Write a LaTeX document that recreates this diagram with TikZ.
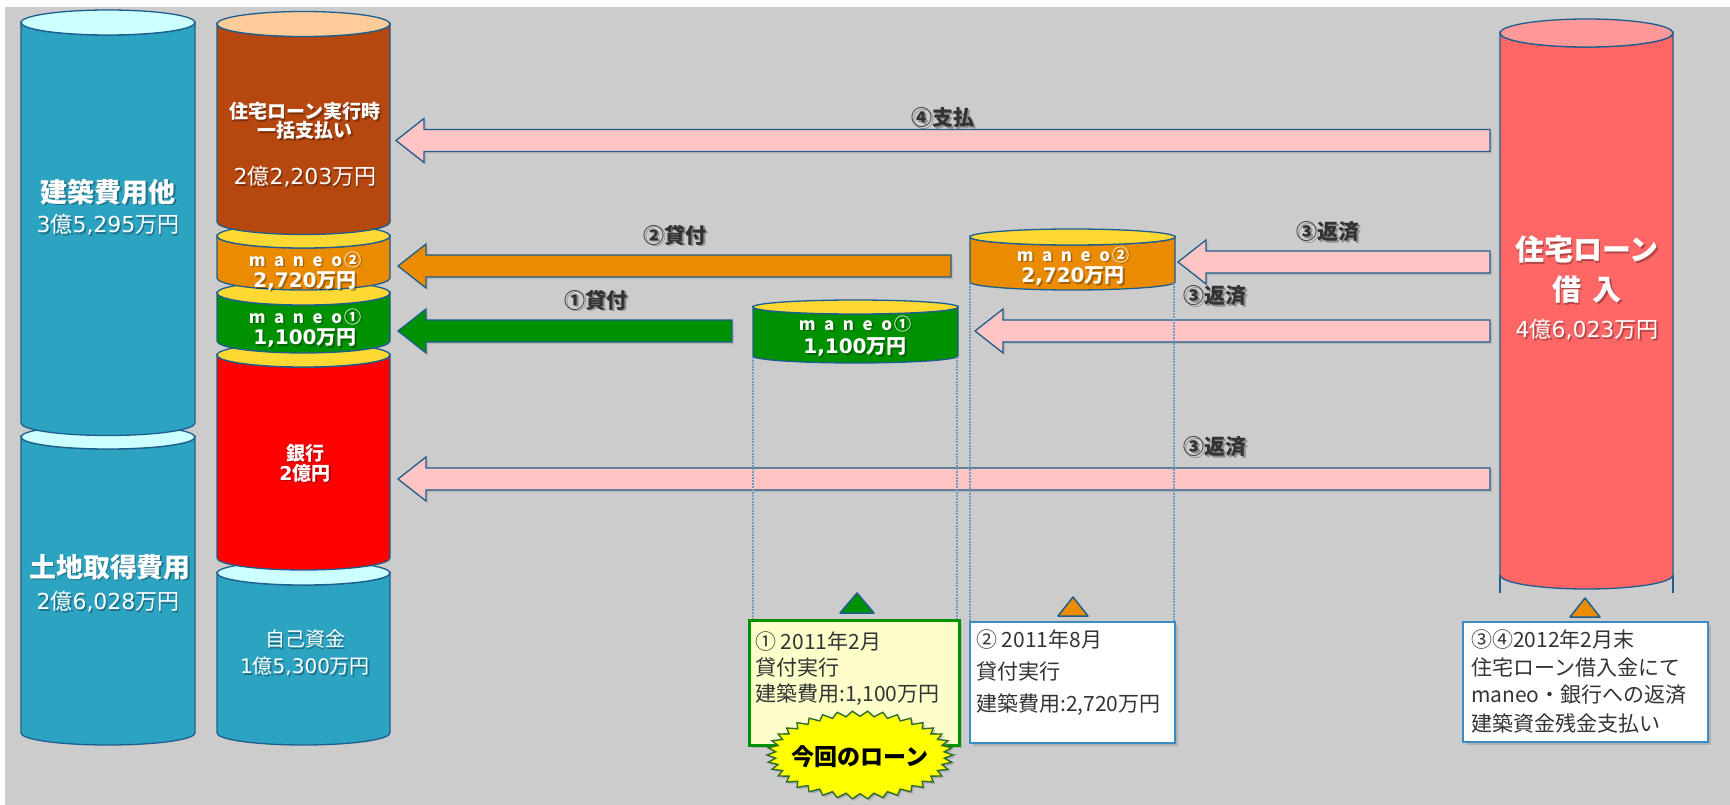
\documentclass[tikz,border=0pt]{standalone}
\usepackage{fontspec}
\setmainfont{Noto Sans CJK JP}
\newfontfamily\lat{DejaVu Sans}
\usetikzlibrary{calc,shadows}
\definecolor{cBg}{HTML}{CCCCCC}
\definecolor{cEdge}{HTML}{1E5E8E}
\definecolor{cTeal}{HTML}{2CA3C1}
\definecolor{cCyan}{HTML}{CCFFFF}
\definecolor{cBrown}{HTML}{B5470F}
\definecolor{cPeach}{HTML}{FFCC99}
\definecolor{cOrange}{HTML}{EB8C00}
\definecolor{cYellow}{HTML}{FFD933}
\definecolor{cGreen}{HTML}{009100}
\definecolor{cRed}{HTML}{FF0000}
\definecolor{cRose}{HTML}{FF6666}
\definecolor{cRoseTop}{HTML}{FF9999}
\definecolor{cPink}{HTML}{FFC4C4}
\definecolor{cDot}{HTML}{6F9CC2}
\definecolor{cTxt}{HTML}{333333}
\definecolor{cCream}{HTML}{FFFFCC}
\definecolor{cBoxEdge}{HTML}{3A8DC4}
\definecolor{cBurst}{HTML}{FFFF00}
\definecolor{cBurstEdge}{HTML}{2F6B2F}
\newcommand\fsz[1]{\fontsize{#1}{#1}\selectfont}
\newcommand\Lt[1]{{\lat #1}}
\newcommand\mnw[1]{m\kern.5em a\kern.5em n\kern.5em e\kern.5em o\kern.12em#1}
\newcommand\cylseg[7]{%
 \draw[cyl,fill=#6] (#1,#3) -- (#1,#4) arc[start angle=180,end angle=0,x radius={(#2-#1)/2},y radius=#5] -- (#2,#3) arc[start angle=0,end angle=180,x radius={(#2-#1)/2},y radius=#5] -- cycle;
 \draw[cyl,fill=#7] ({(#1+#2)/2},#3) ellipse[x radius={(#2-#1)/2},y radius=#5];}
\newcommand\stext[5]{%
 \node[#4,text=black,text opacity=.3] at (#2+1.5,#3+1.5) {#5};
 \node[#4] (#1) at (#2,#3) {#5};}
\newcommand\barrow[3]{\path[arr,fill=#1] let \p1=(#2),\p2=(#3) in
 (\x1,\y1+11pt) -- (\x2+28pt,\y1+11pt) -- (\x2+28pt,\y1+22pt) -- (\x2,\y1) --
 (\x2+28pt,\y1-22pt) -- (\x2+28pt,\y1-11pt) -- (\x1,\y1-11pt) -- cycle;}
\begin{document}
\begin{tikzpicture}[x=1pt,y=-1pt,
 cyl/.style={draw=cEdge,line width=1.3pt},
 arr/.style={draw=cEdge,line width=1.3pt,line join=miter,drop shadow={shadow xshift=2pt,shadow yshift=-2pt,opacity=.25}},
 wt/.style={text=white,inner sep=0pt,align=center},
 lbl/.style={text=cTxt,inner sep=0pt,font=\bfseries\fsz{21}},
 btxt/.style={text=cTxt,inner sep=0pt,anchor=west,font=\fsz{21}},
 box/.style={draw=cBoxEdge,line width=2pt,fill=white,inner sep=0pt,drop shadow={shadow xshift=2.5pt,shadow yshift=-2.5pt,opacity=.35}},
 tri/.style={draw=cEdge,line width=1.5pt,line join=round},
 dotl/.style={draw=cDot,line width=1.3pt,dash pattern=on 1.5pt off 1.5pt},
 burst/.style={draw=cBurstEdge,line width=1.4pt,fill=cBurst,line join=miter,drop shadow={shadow xshift=2pt,shadow yshift=-2pt,opacity=.4}}]
\useasboundingbox (0,0) rectangle (1730,805);
\fill[white] (0,0) rectangle (1730,805);
\fill[cBg] (5,7) rectangle (1730,805);
% left column
\cylseg{21}{195}{437}{733}{12}{cTeal}{cCyan}
\cylseg{21}{195}{22.5}{423}{12.5}{cTeal}{cCyan}
% middle column
\cylseg{217}{390}{573}{733}{12}{cTeal}{cCyan}
\cylseg{217}{390}{355}{558}{12}{cRed}{cYellow}
\cylseg{217}{390}{293}{341}{12}{cGreen}{cYellow}
\cylseg{217}{390}{236}{278}{12}{cOrange}{cYellow}
\cylseg{217}{390}{24}{222}{12.5}{cBrown}{cPeach}
% right column
\cylseg{1500}{1673}{33}{575}{14}{cRose}{cRoseTop}
\draw[cyl] (1500,575) -- (1500,593) (1673,575) -- (1673,593);
% small cylinders
\cylseg{970}{1175}{237}{282}{8}{cOrange}{cYellow}
\cylseg{753}{958}{307}{356}{7}{cGreen}{cYellow}
% arrow end points
\coordinate (a4s) at (1490,140.5); \coordinate (a4e) at (396,140.5);
\coordinate (a2s) at (951,266);    \coordinate (a2e) at (398,266);
\coordinate (a1s) at (732,331);    \coordinate (a1e) at (398,331);
\coordinate (r1s) at (1490,262);   \coordinate (r1e) at (1178,262);
\coordinate (r2s) at (1490,331);   \coordinate (r2e) at (975,331);
\coordinate (r3s) at (1490,479);   \coordinate (r3e) at (398,479);
\barrow{cPink}{a4s}{a4e}
\barrow{cOrange}{a2s}{a2e}
\barrow{cGreen}{a1s}{a1e}
\barrow{cPink}{r1s}{r1e}
\barrow{cPink}{r2s}{r2e}
\barrow{cPink}{r3s}{r3e}
% dotted guide lines
\draw[dotl] (753,357) -- (753,620) (957,357) -- (957,620);
\draw[dotl] (970,283) -- (970,622) (1174,283) -- (1174,622);
% column texts
\stext{t1}{108}{192}{wt,font=\bfseries\fsz{27}}{建築費用他}
\stext{t2}{108}{225}{wt,font=\fsz{22}}{\Lt{3}億\Lt{5,295}万円}
\stext{t3}{110}{567}{wt,font=\bfseries\fsz{27}}{土地取得費用}
\stext{t4}{108}{602}{wt,font=\fsz{22}}{\Lt{2}億\Lt{6,028}万円}
\stext{m1}{305}{121}{wt,font=\bfseries\fsz{19}}{住宅ローン実行時\\一括支払い}
\stext{m2}{305}{177}{wt,font=\fsz{22}}{\Lt{2}億\Lt{2,203}万円}
\stext{m3}{305}{260}{wt,font=\bfseries\fsz{17}}{\mnw{②}}
\stext{m4}{305}{281}{wt,font=\bfseries\fsz{20}}{\Lt{2,720}万円}
\stext{m5}{305}{317}{wt,font=\bfseries\fsz{17}}{\mnw{①}}
\stext{m6}{305}{338}{wt,font=\bfseries\fsz{20}}{\Lt{1,100}万円}
\stext{m7}{305}{463}{wt,font=\bfseries\fontsize{19}{20}\selectfont}{銀行\\\Lt{2}億円}
\stext{m8}{305}{653}{wt,font=\fontsize{20}{27}\selectfont}{自己資金\\\Lt{1}億\Lt{5,300}万円}
\stext{r1}{1587}{270}{wt,font=\bfseries\fontsize{29}{40}\selectfont}{住宅ローン\\借\hspace{.4em}入}
\stext{r2}{1587}{330}{wt,font=\fsz{22}}{\Lt{4}億\Lt{6,023}万円}
\stext{s1}{1073}{255}{wt,font=\bfseries\fsz{17}}{\mnw{②}}
\stext{s2}{1073}{276}{wt,font=\bfseries\fsz{20}}{\Lt{2,720}万円}
\stext{s3}{855}{324}{wt,font=\bfseries\fsz{17}}{\mnw{①}}
\stext{s4}{855}{347}{wt,font=\bfseries\fsz{20}}{\Lt{1,100}万円}
% arrow labels
\stext{l4}{943}{118}{lbl}{④支払}
\stext{l2}{675}{235}{lbl}{②貸付}
\stext{l1}{596}{300}{lbl}{①貸付}
\stext{l3a}{1328}{232}{lbl}{③返済}
\stext{l3b}{1215}{296}{lbl}{③返済}
\stext{l3c}{1215}{447}{lbl}{③返済}
% triangles
\draw[tri,fill=cGreen] (857,593) -- (874,613) -- (840,613) -- cycle;
\draw[tri,fill=cOrange] (1073,597) -- (1088,616) -- (1058,616) -- cycle;
\draw[tri,fill=cOrange] (1585,598) -- (1600,617) -- (1570,617) -- cycle;
% boxes
\node[box,draw=cGreen,line width=3pt,fill=cCream,minimum width=210pt,minimum height=125pt] (b1) at (854,682.5) {};
\node[box,minimum width=205pt,minimum height=121pt] (b2) at (1072.5,682.5) {};
\node[box,minimum width=245pt,minimum height=120pt] (b3) at (1585.5,682) {};
\node[btxt] (b1a) at (755,642) {① 2011年2月};
\node[btxt] (b1b) at (755,668) {貸付実行};
\node[btxt] (b1c) at (755,695) {建築費用:1,100万円};
\node[btxt] (b2a) at (976,640) {② 2011年8月};
\node[btxt] (b2b) at (976,672) {貸付実行};
\node[btxt] (b2c) at (976,705) {建築費用:2,720万円};
\node[btxt] (b3a) at (1471,640) {③④2012年2月末};
\node[btxt] (b3b) at (1471,668) {住宅ローン借入金にて};
\node[btxt] (b3c) at (1471,695) {maneo・銀行への返済};
\node[btxt] (b3d) at (1471,723) {建築資金残金支払い};
% starburst
\draw[burst] plot[variable=\k,samples=77,domain=0:76]
 ({860+93*(1-0.09*mod(round(\k),2))*cos(\k*4.7368421)},{755+44*(1-0.12*mod(round(\k),2))*sin(\k*4.7368421)}) -- cycle;
\node[font=\bfseries\fsz{23},text=black,inner sep=0pt] (burstt) at (860,757) {今回のローン};
\end{tikzpicture}
\end{document}
